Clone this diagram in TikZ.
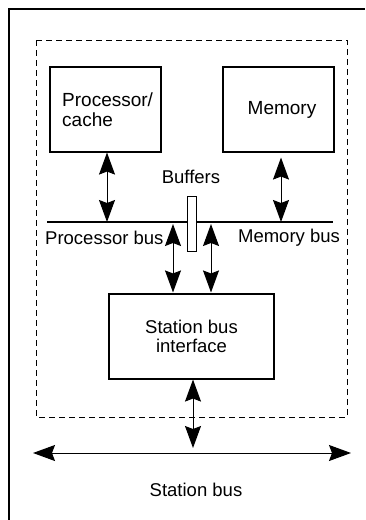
\documentclass[tikz,border=0pt]{standalone}
\usepackage{fontspec}
\setmainfont{Liberation Sans}
\usetikzlibrary{arrows.meta}
\begin{document}
\begin{tikzpicture}[x=1pt,y=-1pt,
  box/.style={draw, line width=1.1pt, inner sep=0pt, align=center,
    font=\fontsize{19}{19.5}\selectfont},
  lbl/.style={inner sep=0pt, align=center, font=\fontsize{18.5}{19}\selectfont},
  link/.style={line width=1pt, {Stealth[length=22pt,width=16pt,inset=3pt]}-{Stealth[length=22pt,width=16pt,inset=3pt]}},
  busline/.style={line width=1.1pt}]
\useasboundingbox (0,0) rectangle (365,520);

% outer frame (top and left edges)
\draw[line width=2pt] (9,520) -- (9,9) -- (365,9);

% station boundary
\draw[line width=1pt, dash pattern=on 6pt off 4pt] (36,40) rectangle (347,417);

% functional blocks
\node[box, minimum width=111pt, minimum height=85pt] (proc) at (105.5,109.5) {};
\node[lbl, anchor=west, align=left, font=\fontsize{19}{20}\selectfont] (proctext) at (62,110) {Processor/\\cache};
\node[box, minimum width=111pt, minimum height=85pt] (mem) at (278.5,109.5) {\hspace*{7pt}Memory};
\node[box, minimum width=165pt, minimum height=85pt, font=\fontsize{18.5}{19}\selectfont] (sbi) at (191.5,336.5) {Station bus\\interface};

% local bus
\coordinate (busL) at (47,222);
\coordinate (busR) at (333,222);
\draw[busline] (busL) -- (busR);
\node[draw, line width=1pt, fill=white, minimum width=9pt, minimum height=55pt, inner sep=0pt] (buf) at (192,224) {};
\node[lbl] (buflbl) at (191,177) {Buffers};
\node[lbl, anchor=west] (pbus) at (45,238) {Processor bus};
\node[lbl] (mbus) at (289,238) {Memory bus};

% station bus
\coordinate (sbL) at (33,453);
\coordinate (sbR) at (351,453);
\draw[link] (sbL) -- (sbR);
\node[lbl] (sblbl) at (196,490) {Station bus};

% connections
\draw[link] ([xshift=1.5pt]proc.south) -- ([xshift=1.5pt]proc.south |- busL);
\draw[link, shorten <=5pt] ([xshift=2.5pt]mem.south) -- ([xshift=2.5pt]mem.south |- busL);
\draw[link, shorten <=2pt, shorten >=1pt] ([xshift=-18.5pt]sbi.north |- busL) -- ([xshift=-18.5pt]sbi.north);
\draw[link, shorten <=2pt, shorten >=1pt] ([xshift=19.5pt]sbi.north |- busL) -- ([xshift=19.5pt]sbi.north);
\draw[link, shorten >=5pt] ([xshift=1.5pt]sbi.south) -- ([xshift=1.5pt]sbi.south |- sbL);
\end{tikzpicture}
\end{document}
